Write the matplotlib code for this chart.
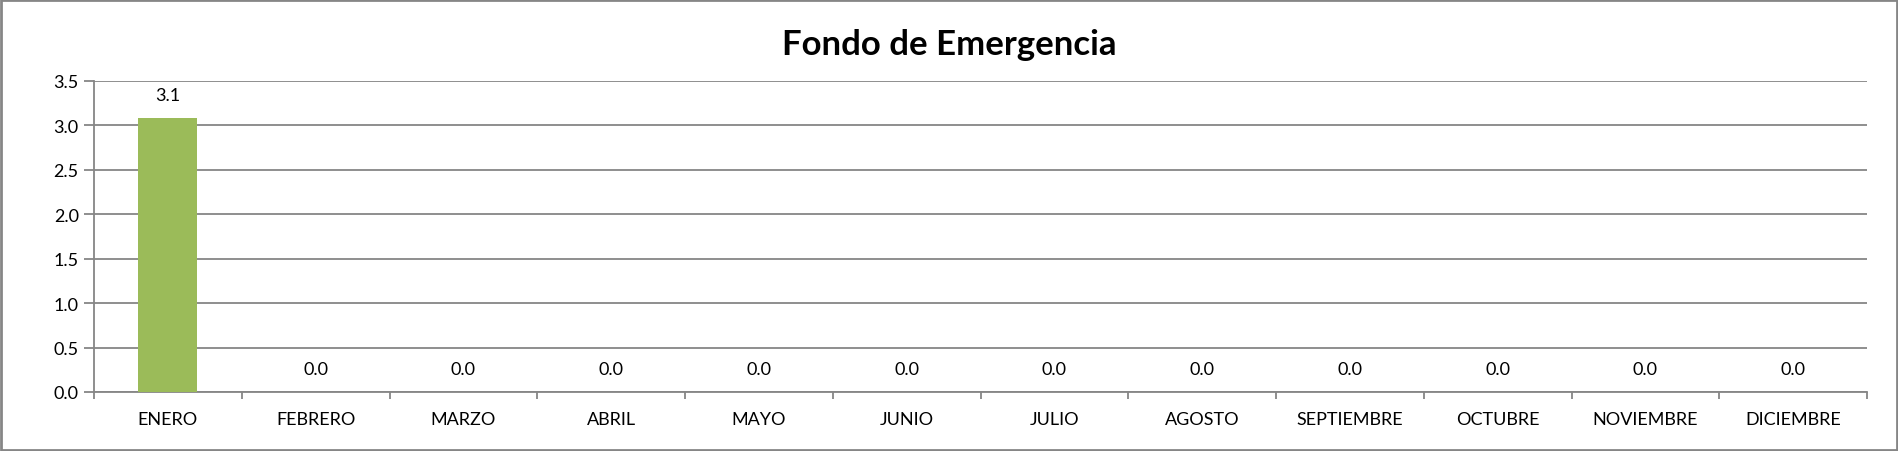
import matplotlib
matplotlib.use("Agg")
import matplotlib.pyplot as plt
from matplotlib.patches import Rectangle

months = ["ENERO", "FEBRERO", "MARZO", "ABRIL", "MAYO", "JUNIO", "JULIO",
          "AGOSTO", "SEPTIEMBRE", "OCTUBRE", "NOVIEMBRE", "DICIEMBRE"]
values = [3.08, 0, 0, 0, 0, 0, 0, 0, 0, 0, 0, 0]
yticks = [0.0, 0.5, 1.0, 1.5, 2.0, 2.5, 3.0, 3.5]
title = "Fondo de Emergencia"

plt.rcParams['font.family'] = ['Lato', 'DejaVu Sans']

W, H = 1898, 452
fig = plt.figure(figsize=(W / 100, H / 100), dpi=100)
left, right, top, bottom = 94, 1867, 82, 393
ax = fig.add_axes([left / W, 1 - bottom / H, (right - left) / W, (bottom - top) / H])

grid_color = "#868686"
fs = 13
x = list(range(len(months)))
ax.bar(x, values, width=0.4, color="#9BBB59", zorder=3)
ax.set_xlim(-0.5, len(months) - 0.5)
ax.set_ylim(0, 3.5)
ax.set_yticks(yticks)
ax.set_yticklabels([f"{v:.1f}" for v in yticks], fontsize=fs)
ax.set_xticks(x)
ax.set_xticklabels(months, fontsize=fs)
ax.tick_params(axis='x', length=0, pad=14)
ax.set_xticks([i - 0.5 for i in range(len(months) + 1)], minor=True)
ax.tick_params(axis='x', which='minor', length=5, color=grid_color, width=1.3)
ax.tick_params(axis='y', length=7, color=grid_color, width=1.3, pad=4)
ax.yaxis.grid(True, color=grid_color, linewidth=1.3, zorder=0)
for s in ['top', 'right']:
    ax.spines[s].set_visible(False)
for s in ['left', 'bottom']:
    ax.spines[s].set_color(grid_color)
    ax.spines[s].set_linewidth(1.3)

for xi, v in zip(x, values):
    ax.annotate(f"{v:.1f}", (xi, v), xytext=(0, 11), textcoords="offset points",
                ha="center", va="bottom", fontsize=fs)

fig.text(0.5, 1 - 45 / H, title, ha="center", va="center", fontsize=25, fontweight="bold")

fig.patches.append(Rectangle((1 / W, 1 / H), (W - 2) / W, (H - 2) / H, transform=fig.transFigure,
                             fill=False, edgecolor=grid_color, linewidth=2))

fig.savefig("out.png", dpi=100)
